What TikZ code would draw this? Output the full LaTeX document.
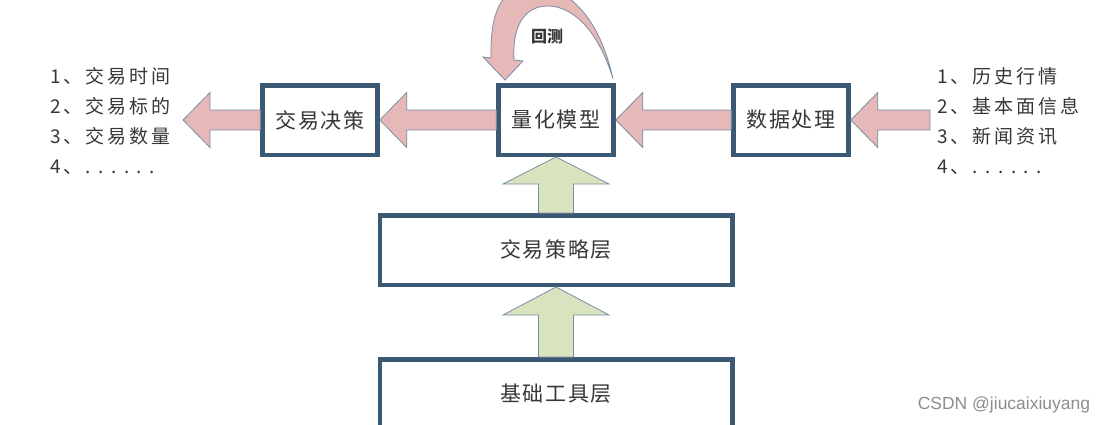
\documentclass[tikz,border=0pt]{standalone}
\usepackage{fontspec}
\setmainfont{Noto Sans CJK SC}
\newfontfamily\listcjk{Noto Sans CJK SC}[LetterSpace=16]
\newfontfamily\boxcjk{Noto Sans CJK SC}[LetterSpace=8]
\newfontfamily\markfont{Liberation Sans}
\usetikzlibrary{calc}
\definecolor{boxblue}{RGB}{59,89,114}
\definecolor{pinkfill}{RGB}{230,185,184}
\definecolor{greenfill}{RGB}{215,228,189}
\definecolor{arrowedge}{RGB}{122,142,166}
\definecolor{textgray}{RGB}{55,55,55}
\newcommand{\PicW}{1106}
\newcommand{\PicH}{424}
\newcommand{\RowY}{120}
\newcommand{\ColX}{556}
\newcommand{\ListDots}{.\kern7.5pt.\kern7.5pt.\kern7.5pt.\kern7.5pt.\kern7.5pt.}
% block arrow: style, tail, tip, shaft half width, head half width, head length
\newcommand{\BlockArrow}[6]{%
  \coordinate (ba-base) at ($(#3)!#6!(#2)$);
  \draw[#1] ($(#2)!#4!90:(#3)$) -- ($(ba-base)!#4!90:(#3)$) -- ($(ba-base)!#5!90:(#3)$)
    -- (#3) -- ($(ba-base)!#5!-90:(#3)$) -- ($(ba-base)!#4!-90:(#3)$)
    -- ($(#2)!#4!-90:(#3)$) -- cycle;
}

\begin{document}
\begin{tikzpicture}[x=1pt,y=-1pt,
  box/.style={draw=boxblue, line width=4.5pt, fill=white, inner sep=0pt,
    minimum width=115pt, minimum height=69.5pt, text=textgray,
    font={\boxcjk\fontsize{21}{21}\selectfont}},
  layerbox/.style={box, minimum width=352.5pt},
  listtext/.style={align=left, inner sep=0pt, text=textgray,
    font={\listcjk\fontsize{19}{30}\selectfont}},
  pinkarrow/.style={fill=pinkfill, draw=arrowedge, line width=0.8pt},
  greenarrow/.style={fill=greenfill, draw=arrowedge, line width=0.8pt}
]
\useasboundingbox (0,0) rectangle (\PicW,\PicH);

% ----- Boxes -----
\node[box] (decision) at (320,\RowY) {交易决策};
\node[box] (model) at (\ColX,\RowY) {量化模型};
\node[box] (prep) at (791,\RowY) {数据处理};
\node[layerbox] (strategy) at (\ColX,250) {交易策略层};
\node[layerbox] (tools) at (\ColX,394) {基础工具层};

% ----- Lists -----
\node[listtext, anchor=west] (outputs) at (50,121) {1、交易时间\\2、交易标的\\3、交易数量\\4、\ListDots};
\node[listtext, anchor=west] (inputs) at (937,121) {1、历史行情\\2、基本面信息\\3、新闻资讯\\4、\ListDots};
\coordinate (out-end) at (183,\RowY);
\coordinate (in-start) at (930,\RowY);

% ----- Flow arrows -----
\BlockArrow{pinkarrow}{in-start}{prep.east}{10pt}{27.5pt}{27pt}
\BlockArrow{pinkarrow}{prep.west}{model.east}{10pt}{27.5pt}{27pt}
\BlockArrow{pinkarrow}{model.west}{decision.east}{10pt}{27.5pt}{27pt}
\BlockArrow{pinkarrow}{decision.west}{out-end}{10pt}{27.5pt}{27pt}
\BlockArrow{greenarrow}{strategy.north}{model.south}{17.5pt}{53pt}{27pt}
\BlockArrow{greenarrow}{tools.north}{strategy.south}{17.5pt}{53pt}{28pt}

% ----- Backtest loop -----
\draw[pinkarrow] (613,79) .. controls (600,20) and (570,-15) .. (530,-14)
  .. controls (500,-13) and (490,15) .. (491,58) -- (483,57) -- (505,80)
  -- (523,61) -- (514,60) .. controls (512,25) and (525,6) .. (548,6)
  .. controls (575,6) and (600,35) .. (613,79) -- cycle;
\node[text=textgray, font={\fontsize{16}{16}\selectfont\bfseries}] (backtest) at (547,36) {回测};

\node[text=black!45, font={\markfont\fontsize{17.5}{17.5}\selectfont}] (mark) at (1004,405) {CSDN @jiucaixiuyang};

\end{tikzpicture}
\end{document}
